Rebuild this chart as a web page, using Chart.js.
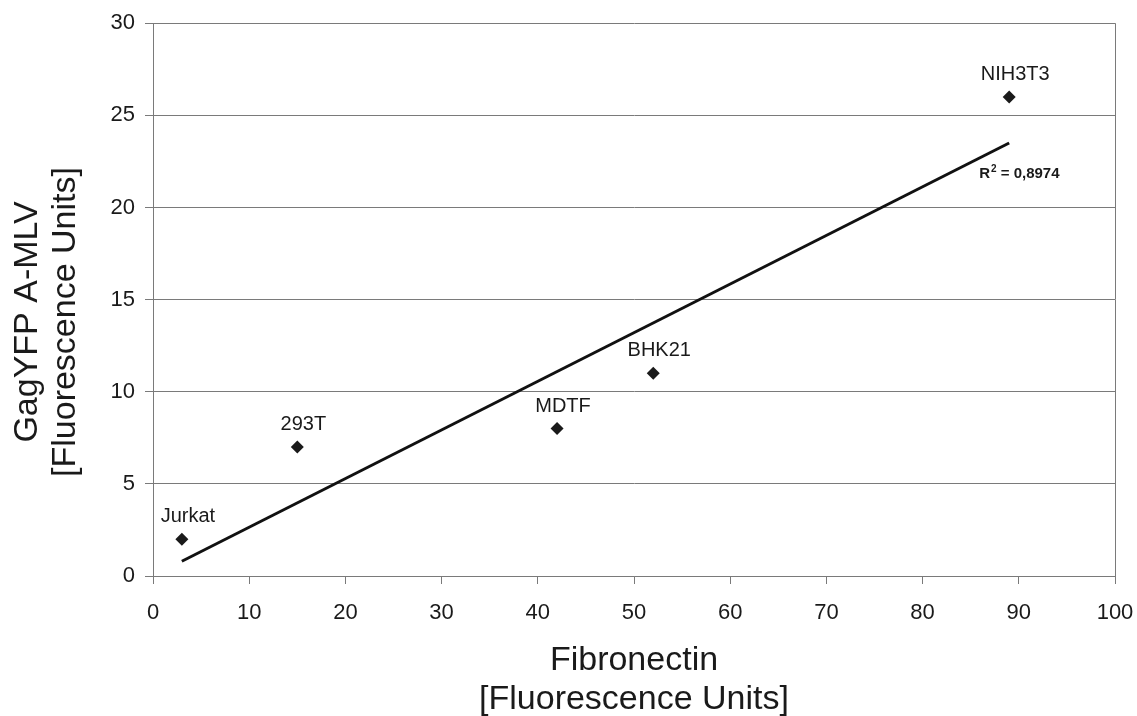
<!DOCTYPE html>
<html>
<head>
<meta charset="utf-8">
<script src="https://cdn.jsdelivr.net/npm/chart.js@4.4.1/dist/chart.umd.min.js"></script>
<style>
  html, body { margin: 0; padding: 0; background: #fff; }
  #wrap { width: 1137px; height: 716px; }
</style>
</head>
<body>
<div id="wrap"><canvas id="scatterChart"></canvas></div>
<script>
// cell lines and measured fluorescence
const cellLines = ["Jurkat", "293T", "MDTF", "BHK21", "NIH3T3"];
const fibronectin = [3, 15, 42, 52, 89];
const gagYfp = [2, 7, 8, 11, 26];

// linear trend line end points
const trendX = [3, 89];
const trendY = [0.8, 23.5];
const rSquared = "0,8974";

const xTicks = [0, 10, 20, 30, 40, 50, 60, 70, 80, 90, 100];
const yTicks = [0, 5, 10, 15, 20, 25, 30];

const textColor = "#1a1a1a";
const gridColor = "#7a7a7a";
const fontFamily = "'Liberation Sans', Arial, sans-serif";

// point labels, R² text, y title and the right plot border
const annotations = {
  id: "annotations",
  afterDatasetsDraw(chart) {
    const { ctx, chartArea, scales } = chart;
    const meta = chart.getDatasetMeta(0);

    ctx.save();
    // right border of the plot area
    ctx.strokeStyle = gridColor;
    ctx.lineWidth = 1;
    ctx.beginPath();
    ctx.moveTo(chartArea.right + 0.5, chartArea.top);
    ctx.lineTo(chartArea.right + 0.5, chartArea.bottom);
    ctx.stroke();

    // data labels above the points
    ctx.fillStyle = textColor;
    ctx.font = "20px " + fontFamily;
    ctx.textAlign = "center";
    ctx.textBaseline = "alphabetic";
    meta.data.forEach((pt, i) => {
      ctx.fillText(cellLines[i], pt.x + 6, pt.y - 17);
    });

    // R² label near the end of the trend line
    const rx = scales.x.getPixelForValue(trendX[1]) - 30;
    const ry = scales.y.getPixelForValue(trendY[1]) + 35;
    ctx.textAlign = "left";
    ctx.font = "bold 15px " + fontFamily;
    ctx.fillText("R", rx, ry);
    let w = ctx.measureText("R").width;
    ctx.font = "bold 10px " + fontFamily;
    ctx.fillText("2", rx + w + 1, ry - 6);
    w += ctx.measureText("2").width + 1;
    ctx.font = "bold 15px " + fontFamily;
    ctx.fillText(" = " + rSquared, rx + w, ry);

    // y axis title, two lines
    ctx.font = "34px " + fontFamily;
    ctx.textAlign = "center";
    ctx.textBaseline = "middle";
    ctx.translate(28, 322);
    ctx.rotate(-Math.PI / 2);
    ctx.fillText("GagYFP A-MLV", 0, 0);
    ctx.fillText("[Fluorescence Units]", 0, 38);
    ctx.restore();
  },
};

new Chart(document.getElementById("scatterChart"), {
  type: "scatter",
  data: {
    datasets: [
      {
        label: "GagYFP",
        data: fibronectin.map((x, i) => ({ x: x, y: gagYfp[i] })),
        pointStyle: "rectRot",
        pointRadius: 6.5,
        pointHoverRadius: 6.5,
        backgroundColor: textColor,
        borderColor: textColor,
        borderWidth: 0,
      },
      {
        label: "Trend",
        type: "line",
        data: trendX.map((x, i) => ({ x: x, y: trendY[i] })),
        borderColor: "#111",
        borderWidth: 3,
        pointRadius: 0,
        fill: false,
      },
    ],
  },
  options: {
    responsive: true,
    maintainAspectRatio: false,
    animation: false,
    layout: {
      padding: { top: 23, right: 22, bottom: 0, left: 0 },
    },
    plugins: {
      legend: { display: false },
      tooltip: { enabled: false },
    },
    scales: {
      x: {
        type: "linear",
        min: 0,
        max: 100,
        afterBuildTicks: (axis) => {
          axis.ticks = xTicks.map((v) => ({ value: v }));
        },
        afterFit: (axis) => {
          axis.height = 140;
          axis.paddingLeft = 0;
          axis.paddingRight = 0;
        },
        border: { color: gridColor, width: 1 },
        grid: {
          drawOnChartArea: false,
          color: gridColor,
          tickLength: 8,
        },
        ticks: {
          color: textColor,
          font: { family: fontFamily, size: 22 },
          padding: 16,
          maxRotation: 0,
        },
        title: {
          display: true,
          text: ["Fibronectin", "[Fluorescence Units]"],
          color: textColor,
          font: { family: fontFamily, size: 34, lineHeight: 1.15 },
          padding: { top: 0, bottom: -3 },
        },
      },
      y: {
        type: "linear",
        min: 0,
        max: 30,
        afterBuildTicks: (axis) => {
          axis.ticks = yTicks.map((v) => ({ value: v }));
        },
        afterFit: (axis) => {
          axis.width = 153;
        },
        border: { color: gridColor, width: 1 },
        grid: {
          color: gridColor,
          tickLength: 8,
        },
        ticks: {
          color: textColor,
          font: { family: fontFamily, size: 22 },
          padding: 10,
        },
      },
    },
  },
  plugins: [annotations],
});
</script>
</body>
</html>
